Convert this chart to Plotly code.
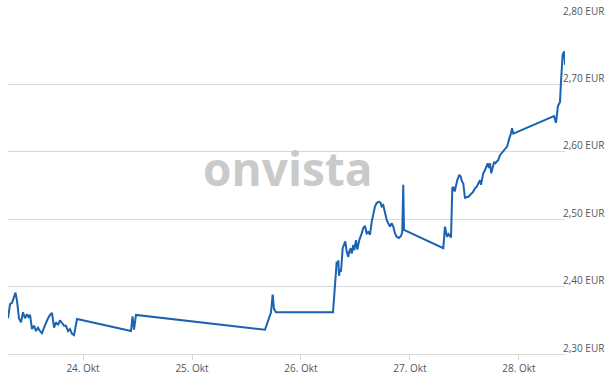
import plotly.graph_objects as go

# ---- data ----
times = [
    # 23 Oct
    "2025-10-23 07:29", "2025-10-23 07:56", "2025-10-23 08:22", "2025-10-23 09:08", "2025-10-23 09:28",
    "2025-10-23 09:54", "2025-10-23 10:21", "2025-10-23 10:47", "2025-10-23 11:14", "2025-10-23 11:40",
    "2025-10-23 12:00", "2025-10-23 12:20", "2025-10-23 12:46", "2025-10-23 13:13", "2025-10-23 13:39",
    "2025-10-23 14:06", "2025-10-23 14:32", "2025-10-23 14:58", "2025-10-23 15:25", "2025-10-23 15:51",
    "2025-10-23 16:18", "2025-10-23 16:44", "2025-10-23 17:10", "2025-10-23 17:37", "2025-10-23 18:03",
    "2025-10-23 18:30", "2025-10-23 18:56", "2025-10-23 19:23", "2025-10-23 19:49", "2025-10-23 20:15",
    "2025-10-23 20:42", "2025-10-23 21:08", "2025-10-23 21:35", "2025-10-23 22:01", "2025-10-23 22:41",
    # 24 Oct
    "2025-10-24 10:34", "2025-10-24 10:54", "2025-10-24 11:14", "2025-10-24 11:40",
    # 25 Oct
    "2025-10-25 16:04", "2025-10-25 16:44", "2025-10-25 17:24", "2025-10-25 17:46", "2025-10-25 18:03",
    "2025-10-25 18:30",
    # 26 Oct
    "2025-10-26 07:03", "2025-10-26 07:52", "2025-10-26 08:05", "2025-10-26 08:13", "2025-10-26 08:22",
    "2025-10-26 08:35", "2025-10-26 08:48", "2025-10-26 09:11", "2025-10-26 09:32", "2025-10-26 09:45",
    "2025-10-26 10:04", "2025-10-26 10:25", "2025-10-26 10:38", "2025-10-26 10:57", "2025-10-26 11:10",
    "2025-10-26 11:31", "2025-10-26 11:44", "2025-10-26 12:07", "2025-10-26 12:24", "2025-10-26 12:50",
    "2025-10-26 13:22", "2025-10-26 13:43", "2025-10-26 14:06", "2025-10-26 14:28", "2025-10-26 14:49",
    "2025-10-26 15:12", "2025-10-26 15:34", "2025-10-26 15:55", "2025-10-26 16:18", "2025-10-26 16:40",
    "2025-10-26 17:10", "2025-10-26 17:33", "2025-10-26 17:46", "2025-10-26 18:07", "2025-10-26 18:30",
    "2025-10-26 18:52", "2025-10-26 19:13", "2025-10-26 19:36", "2025-10-26 19:58", "2025-10-26 20:19",
    "2025-10-26 20:42", "2025-10-26 21:04", "2025-10-26 21:35", "2025-10-26 22:01", "2025-10-26 22:18",
    "2025-10-26 22:31", "2025-10-26 22:41",
    # 27 Oct
    "2025-10-27 07:20", "2025-10-27 07:42", "2025-10-27 08:09", "2025-10-27 08:29", "2025-10-27 09:02",
    "2025-10-27 09:19", "2025-10-27 09:32", "2025-10-27 09:51", "2025-10-27 10:08", "2025-10-27 10:25",
    "2025-10-27 10:51", "2025-10-27 11:10", "2025-10-27 11:27", "2025-10-27 11:44", "2025-10-27 12:07",
    "2025-10-27 12:29", "2025-10-27 12:50", "2025-10-27 13:13", "2025-10-27 13:35", "2025-10-27 13:56",
    "2025-10-27 14:19", "2025-10-27 14:41", "2025-10-27 15:02", "2025-10-27 15:25", "2025-10-27 15:38",
    "2025-10-27 15:55", "2025-10-27 16:08", "2025-10-27 16:31", "2025-10-27 16:44", "2025-10-27 17:06",
    "2025-10-27 17:24", "2025-10-27 17:37", "2025-10-27 17:54", "2025-10-27 18:13", "2025-10-27 18:30",
    "2025-10-27 18:47", "2025-10-27 19:05", "2025-10-27 19:27", "2025-10-27 19:49", "2025-10-27 20:11",
    "2025-10-27 20:55", "2025-10-27 21:25", "2025-10-27 21:52", "2025-10-27 22:14", "2025-10-27 22:28",
    "2025-10-27 22:45",
    # 28 Oct
    "2025-10-28 07:42", "2025-10-28 08:09", "2025-10-28 08:35", "2025-10-28 09:02", "2025-10-28 09:15",
    "2025-10-28 09:37", "2025-10-28 09:58", "2025-10-28 10:08",
]

prices = [
    # 23 Oct
    2.353, 2.374, 2.376, 2.391, 2.379,
    2.353, 2.347, 2.362, 2.353, 2.359,
    2.355, 2.358, 2.337, 2.342, 2.334,
    2.339, 2.334, 2.331, 2.339, 2.347,
    2.353, 2.358, 2.361, 2.339, 2.347,
    2.343, 2.350, 2.346, 2.342, 2.342,
    2.334, 2.337, 2.330, 2.328, 2.352,
    # 24 Oct
    2.334, 2.356, 2.336, 2.358,
    # 25 Oct
    2.336, 2.350, 2.362, 2.388, 2.367,
    2.362,
    # 26 Oct
    2.362, 2.437, 2.432, 2.439, 2.416,
    2.425, 2.422, 2.457, 2.465, 2.467,
    2.452, 2.444, 2.452, 2.457, 2.449,
    2.462, 2.454, 2.469, 2.455, 2.469,
    2.479, 2.487, 2.490, 2.479, 2.481,
    2.477, 2.496, 2.509, 2.519, 2.524,
    2.526, 2.524, 2.519, 2.521, 2.508,
    2.499, 2.494, 2.489, 2.494, 2.489,
    2.479, 2.474, 2.472, 2.475, 2.481,
    2.551, 2.484,
    # 27 Oct
    2.457, 2.489, 2.474, 2.478, 2.473,
    2.546, 2.548, 2.541, 2.553, 2.558,
    2.566, 2.563, 2.556, 2.553, 2.531,
    2.533, 2.533, 2.536, 2.539, 2.541,
    2.546, 2.548, 2.553, 2.558, 2.551,
    2.563, 2.568, 2.573, 2.578, 2.583,
    2.576, 2.583, 2.568, 2.580, 2.585,
    2.583, 2.585, 2.588, 2.595, 2.598,
    2.603, 2.608, 2.620, 2.627, 2.635,
    2.627,
    # 28 Oct
    2.653, 2.643, 2.668, 2.674, 2.704,
    2.744, 2.749, 2.729,
]

x_tick_vals = ["2025-10-24", "2025-10-25", "2025-10-26", "2025-10-27", "2025-10-28"]
x_tick_text = ["24. Okt", "25. Okt", "26. Okt", "27. Okt", "28. Okt"]
y_tick_vals = [2.30, 2.40, 2.50, 2.60, 2.70, 2.80]
y_tick_text = ["2,30 EUR", "2,40 EUR", "2,50 EUR", "2,60 EUR", "2,70 EUR", "2,80 EUR"]

fig = go.Figure()
fig.add_trace(go.Scatter(
    x=times, y=prices, mode="lines",
    line=dict(color="#1b62b3", width=2),
    hoverinfo="skip", showlegend=False,
))

fig.add_annotation(
    text="onvista", xref="paper", yref="paper", x=0.503, y=0.552,
    showarrow=False,
    font=dict(family="Open Sans", size=46, color="#cacaca", weight=700),
)

grid = "#d8d8d8"
fig.update_layout(
    width=611, height=379,
    margin=dict(l=8, r=46, t=17, b=25),
    paper_bgcolor="white", plot_bgcolor="white",
    font=dict(family="Open Sans", size=10, color="#555555"),
    xaxis=dict(
        type="date", automargin=False,
        range=[times[0], times[-1]],
        tickvals=x_tick_vals, ticktext=x_tick_text,
        showgrid=False, zeroline=False,
        showline=True, linecolor=grid, linewidth=1,
        ticks="outside", ticklen=5, tickcolor=grid, tickwidth=1,
        tickfont=dict(size=10, color="#555555"),
    ),
    yaxis=dict(
        side="right", automargin=False,
        range=[2.30, 2.80],
        tickvals=y_tick_vals, ticktext=y_tick_text,
        showgrid=True, gridcolor=grid, gridwidth=1,
        zeroline=False, showline=False, ticks="",
        ticklabelshift=-6, ticklabelstandoff=-3,
        tickfont=dict(size=10, color="#555555"),
    ),
)

fig.write_html("out.html")
